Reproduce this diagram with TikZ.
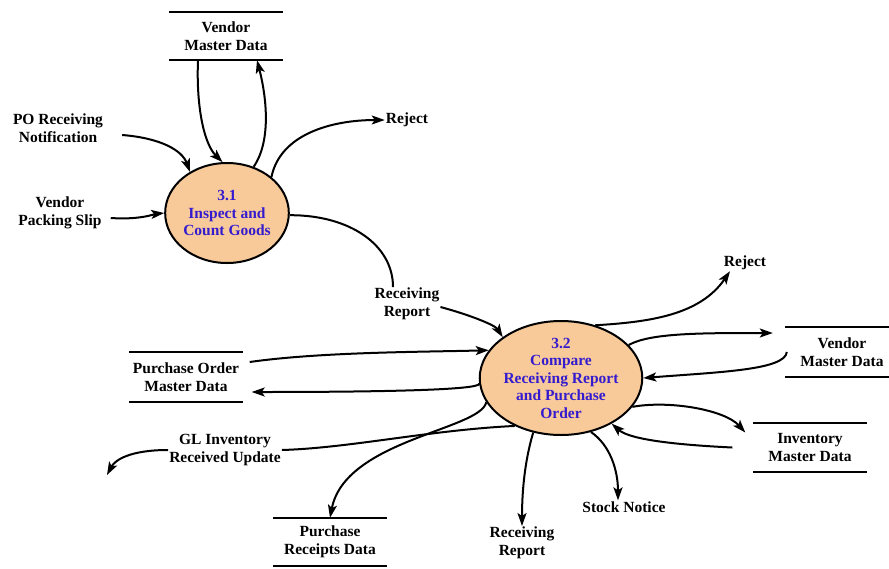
\documentclass[tikz,border=0pt]{standalone}
\usepackage{fontspec}
\setmainfont{Liberation Serif}
\usetikzlibrary{shapes.geometric,arrows.meta}

\definecolor{procfill}{RGB}{248,202,154}
\definecolor{proctext}{RGB}{52,28,206}

\tikzset{
  every node/.style={font=\bfseries\fontsize{15.5}{17.5}\selectfont, align=center, inner sep=1pt},
  process/.style={ellipse, draw, line width=2pt, fill=procfill, text=proctext, inner sep=0pt},
  store/.style={minimum width=113pt, minimum height=48pt},
  flow/.style={line width=2pt, -{Stealth[length=13pt,width=9pt,inset=3pt]}},
  plain/.style={line width=2pt},
  rule/.style={line width=2pt}
}

\begin{document}
\begin{tikzpicture}[x=1pt,y=-1pt]
\useasboundingbox (0,0) rectangle (889,568);
\clip (0,0) rectangle (889,568);
\fill[white] (0,0) rectangle (889,568);

% processes
\node[process, minimum width=114pt, minimum height=100pt] (p1) at (227,213) {3.1\\Inspect and\\Count Goods};
\node[process, minimum width=126pt, minimum height=114pt] (p2) at (561,378) {3.2\\Compare\\Receiving Report\\and Purchase\\Order};

% data stores
\node[store] (vmdA) at (226,36) {Vendor\\Master Data};
\node[store, minimum width=114pt, minimum height=50pt] (vmdB) at (842,352) {Vendor\\Master Data};
\node[store, minimum height=49pt] (inv) at (810,447.5) {Inventory\\Master Data};
\node[store, minimum height=50pt] (pom) at (186,377) {Purchase Order\\Master Data};
\node[store] (prd) at (330,542) {Purchase\\Receipts Data};
\foreach \s in {vmdA,vmdB,inv,pom,prd}{
  \draw[rule] (\s.north west) -- (\s.north east);
  \draw[rule] (\s.south west) -- (\s.south east);
}

% external flows / labels
\node (porn) at (58,128) {PO Receiving\\Notification};
\node (vps) at (60,213) {Vendor\\Packing Slip};
\node (rejA) at (407,120) {Reject};
\node (rrA) at (407,304) {Receiving\\Report};
\node (rejB) at (745,263) {Reject};
\node (stock) at (624,507) {Stock Notice};
\node (rrB) at (522,543) {Receiving\\Report};
\node (gl) at (225,450) {GL Inventory\\Received Update};
\coordinate (glend) at (107,475);

% flows around 3.1
\draw[flow] ([xshift=-28pt]vmdA.south) .. controls (196,110) and (205,145) .. (p1.95);
\draw[flow] (p1.60) .. controls (272,140) and (266,95) .. ([xshift=31pt]vmdA.south);
\draw[flow] (p1.39) .. controls (280,135) and (330,120) .. (rejA.west);
\draw[flow] ([xshift=18pt,yshift=-7pt]porn.east) .. controls (160,138) and (182,150) .. (p1.132);
\draw[flow] ([xshift=8pt,yshift=-5pt]vps.east) .. controls (140,220) and (155,214) .. (p1.180);
\draw[plain] (p1.-2) .. controls (350,215) and (393,245) .. ([xshift=-14pt]rrA.north);

% flows around 3.2
\draw[flow] ([yshift=-3pt]rrA.east) .. controls (470,315) and (495,325) .. (p2.145);
\draw[flow] ([xshift=7pt,yshift=15pt]pom.east) .. controls (320,352) and (420,352) .. (p2.159);
\draw[flow] (p2.184) .. controls (480,390) and (380,392) .. ([xshift=9pt,yshift=-15pt]pom.east);
\draw[flow] (p2.198) .. controls (480,430) and (345,440) .. (prd.north);
\draw[plain] (p2.226) .. controls (430,430) and (350,448) .. (gl.east);
\draw[flow] (gl.west) .. controls (130,450) and (115,460) .. (glend);
\draw[flow] (p2.243) .. controls (525,460) and (522,490) .. (rrB.north);
\draw[flow] (p2.299) .. controls (610,445) and (618,470) .. ([xshift=-6pt]stock.north);
\draw[flow] ([xshift=-21pt]inv.west) .. controls (680,445) and (630,440) .. (p2.318);
\draw[flow] (p2.338) .. controls (670,400) and (725,410) .. ([xshift=-8pt,yshift=15pt]inv.west);
\draw[flow] ([xshift=2pt]vmdB.west) .. controls (785,370) and (720,372) .. (p2.0);
\draw[flow] (p2.26) .. controls (650,333) and (700,333) .. ([xshift=-12pt,yshift=19pt]vmdB.west);
\draw[flow] (p2.57) .. controls (650,322) and (700,315) .. ([xshift=-15pt]rejB.south);
\end{tikzpicture}
\end{document}
